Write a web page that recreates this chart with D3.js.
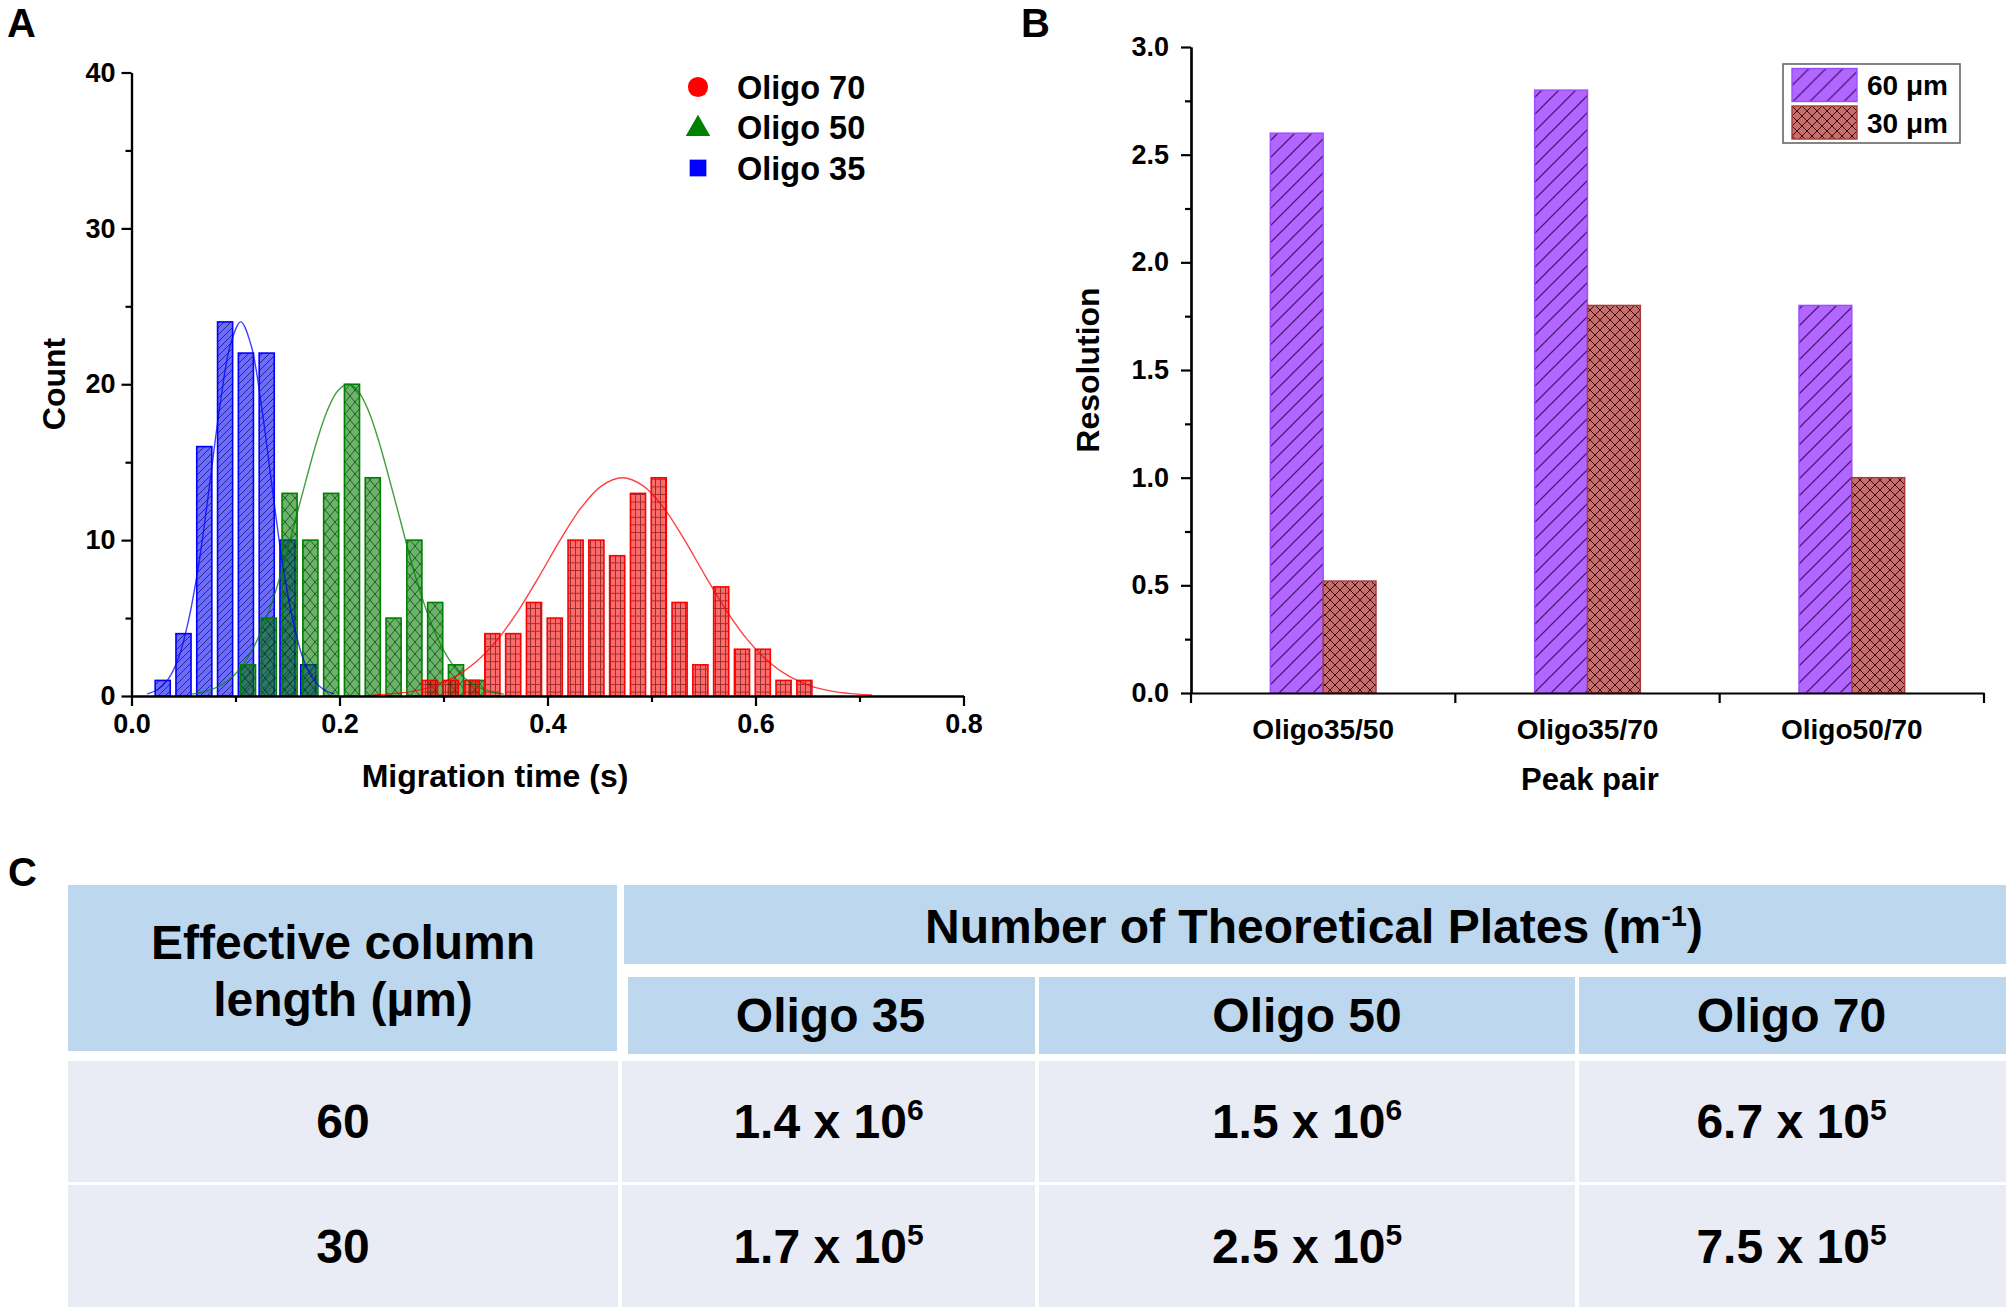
<!DOCTYPE html>
<html>
<head>
<meta charset="utf-8">
<script src="https://cdn.jsdelivr.net/npm/d3@7"></script>
<style>
  body { margin: 0; background: #fff; }
  svg { display: block; }
</style>
</head>
<body>
<svg width="2010" height="1314"></svg>
<script>
// ---- panel A : histogram of migration times (bin centre in s, count) ----
const binWidth = 0.0145;
const oligo35Bins = [0.03, 0.05, 0.07, 0.09, 0.11, 0.13, 0.15, 0.17];
const oligo35Counts = [1, 4, 16, 24, 22, 22, 10, 2];
const oligo50Bins = [0.112, 0.132, 0.152, 0.172, 0.192, 0.212, 0.232, 0.252, 0.272, 0.292, 0.312, 0.332];
const oligo50Counts = [2, 5, 13, 10, 13, 20, 14, 5, 10, 6, 2, 1];
const oligo70Bins = [0.287, 0.307, 0.327, 0.347, 0.367, 0.387, 0.407, 0.427, 0.447, 0.467,
                     0.487, 0.507, 0.527, 0.547, 0.567, 0.587, 0.607, 0.627, 0.647];
const oligo70Counts = [1, 1, 1, 4, 4, 6, 5, 10, 10, 9, 13, 14, 6, 2, 7, 3, 3, 1, 1];

// fitted curves, points
const oligo35FitX = [0.015, 0.025, 0.035, 0.045, 0.055, 0.065, 0.075, 0.085, 0.095, 0.105,
                     0.115, 0.125, 0.135, 0.145, 0.155, 0.165, 0.175, 0.185, 0.195];
const oligo35FitY = [0.14, 0.4, 1.05, 2.4, 4.9, 8.6, 13.5, 18.6, 22.5, 24,
                     22.5, 18.6, 13.5, 8.6, 4.9, 2.4, 1.05, 0.4, 0.14];
const oligo50FitX = [0.058, 0.068, 0.078, 0.088, 0.098, 0.108, 0.118, 0.128, 0.138, 0.148, 0.158,
                     0.168, 0.178, 0.188, 0.198, 0.208, 0.218, 0.228, 0.238, 0.248, 0.258,
                     0.268, 0.278, 0.288, 0.298, 0.308, 0.318, 0.328, 0.338, 0.348, 0.358];
const oligo50FitY = [0.12, 0.24, 0.44, 0.77, 1.29, 2.08, 3.2, 4.7, 6.6, 8.85, 11.4,
                     13.9, 16.3, 18.27, 19.55, 20, 19.55, 18.27, 16.3, 13.9, 11.4,
                     8.85, 6.6, 4.7, 3.2, 2.08, 1.29, 0.77, 0.44, 0.24, 0.12];
const oligo70FitX = [0.232, 0.252, 0.272, 0.292, 0.312, 0.332, 0.352, 0.372, 0.392, 0.412, 0.432, 0.452,
                     0.472, 0.492, 0.512, 0.532, 0.552, 0.572, 0.592, 0.612, 0.632, 0.652, 0.672, 0.692, 0.712];
const oligo70FitY = [0.06, 0.15, 0.33, 0.67, 1.27, 2.23, 3.63, 5.48, 7.68, 9.98, 12.05, 13.48,
                     14, 13.48, 12.05, 9.98, 7.68, 5.48, 3.63, 2.23, 1.27, 0.67, 0.33, 0.15, 0.06];

const xTicksA = [0, 0.2, 0.4, 0.6, 0.8];
const xMinorA = [0.1, 0.3, 0.5, 0.7];
const yTicksA = [0, 10, 20, 30, 40];
const yMinorA = [5, 15, 25, 35];
const legendA = ["Oligo 70", "Oligo 50", "Oligo 35"];

// ---- panel B : resolution per peak pair ----
const peakPairs = ["Oligo35/50", "Oligo35/70", "Oligo50/70"];
const lengthsB = ["60 μm", "30 μm"];
const res60 = [2.6, 2.8, 1.8];
const res30 = [0.52, 1.8, 1.0];
const yTicksB = [0, 0.5, 1.0, 1.5, 2.0, 2.5, 3.0];
const yMinorB = [0.25, 0.75, 1.25, 1.75, 2.25, 2.75];

// ---- panel C : theoretical plates table ----
const tableLeftHead = ["Effective column", "length (µm)"];
const tableTopHead = "Number of Theoretical Plates (m";
const tableTopSup = "-1";
const oligoCols = ["Oligo 35", "Oligo 50", "Oligo 70"];
const columnLengths = ["60", "30"];
const platesMantissa = [["1.4", "1.5", "6.7"], ["1.7", "2.5", "7.5"]];
const platesExponent = [["6", "6", "5"], ["5", "5", "5"]];

const FONT = "'Liberation Sans', Arial, sans-serif";
const svg = d3.select("svg")
    .attr("font-family", FONT)
    .attr("font-weight", "bold");
const defs = svg.append("defs");

function addPattern(id, w, h, d, color, sw){
    defs.append("pattern")
        .attr("id", id)
        .attr("patternUnits", "userSpaceOnUse")
        .attr("width", w)
        .attr("height", h)
        .append("path")
        .attr("d", d)
        .attr("fill", "none")
        .attr("stroke", color)
        .attr("stroke-width", sw);
}
addPattern("hatchBlue", 7, 7, "M0,7L7,0M-1,1L1,-1M6,8L8,6", "rgba(0,0,40,0.6)", 1);
addPattern("crossGreen", 10, 12, "M0,0L10,12M10,0L0,12", "rgba(0,25,0,0.6)", 1);
addPattern("gridRed", 5, 7.6, "M0,0.5H5M0.5,0V7.6", "rgba(70,0,0,0.55)", 1);
addPattern("hatchPurple", 17, 17, "M0,17L17,0M-2,2L2,-2M15,19L19,15", "#4a1a78", 1.3);
addPattern("crossBrown", 10, 10, "M0,0L10,10M10,0L0,10", "#3c0c0c", 1);

function styleAxis(g, size){
    g.attr("font-family", FONT).attr("font-size", size).attr("font-weight", "bold");
    g.selectAll("path, line").attr("stroke", "#000").attr("stroke-width", 2.2);
    g.selectAll("text").attr("fill", "#000");
}

// ================= panel A =================
const xA = d3.scaleLinear().domain([0, 0.8]).range([131.5, 963.5]);
const yA = d3.scaleLinear().domain([0, 40]).range([696, 72.5]);
const gA = svg.append("g");

const seriesA = [
    { bins: oligo35Bins, counts: oligo35Counts, fx: oligo35FitX, fy: oligo35FitY, color: "#0000ff", pat: "hatchBlue" },
    { bins: oligo50Bins, counts: oligo50Counts, fx: oligo50FitX, fy: oligo50FitY, color: "#008000", pat: "crossGreen" },
    { bins: oligo70Bins, counts: oligo70Counts, fx: oligo70FitX, fy: oligo70FitY, color: "#ff0000", pat: "gridRed" }
];

seriesA.forEach(function(s){
    var bars = gA.append("g")
        .selectAll("g")
        .data(d3.zip(s.bins, s.counts))
        .join("g");
    bars.append("rect")
        .attr("x", d => xA(d[0] - binWidth / 2))
        .attr("width", xA(binWidth) - xA(0))
        .attr("y", d => yA(d[1]))
        .attr("height", d => yA(0) - yA(d[1]))
        .attr("fill", s.color)
        .attr("fill-opacity", 0.58);
    bars.append("rect")
        .attr("x", d => xA(d[0] - binWidth / 2))
        .attr("width", xA(binWidth) - xA(0))
        .attr("y", d => yA(d[1]))
        .attr("height", d => yA(0) - yA(d[1]))
        .attr("fill", "url(#" + s.pat + ")")
        .attr("stroke", s.color)
        .attr("stroke-width", 1.6);
});

const fitLine = d3.line()
    .x(d => xA(d[0]))
    .y(d => yA(d[1]))
    .curve(d3.curveCatmullRom);
seriesA.forEach(function(s){
    gA.append("path")
        .attr("d", fitLine(d3.zip(s.fx, s.fy)))
        .attr("fill", "none")
        .attr("stroke", s.color)
        .attr("stroke-opacity", 0.75)
        .attr("stroke-width", 1.4);
});

// axes A
gA.append("g").attr("transform", "translate(0,696)")
    .call(d3.axisBottom(xA).tickValues(xMinorA).tickFormat("").tickSize(6).tickSizeOuter(0))
    .call(g => styleAxis(g, 27));
gA.append("g").attr("transform", "translate(0,696)")
    .call(d3.axisBottom(xA).tickValues(xTicksA).tickFormat(d3.format(".1f")).tickSize(10).tickSizeOuter(0).tickPadding(8))
    .call(g => styleAxis(g, 27));
gA.append("g").attr("transform", "translate(131.5,0)")
    .call(d3.axisLeft(yA).tickValues(yMinorA).tickFormat("").tickSize(6).tickSizeOuter(0))
    .call(g => styleAxis(g, 27));
gA.append("g").attr("transform", "translate(131.5,0)")
    .call(d3.axisLeft(yA).tickValues(yTicksA).tickFormat(d3.format("d")).tickSize(10).tickSizeOuter(0).tickPadding(6))
    .call(g => styleAxis(g, 27));

gA.append("text")
    .attr("transform", "translate(54,384) rotate(-90)")
    .attr("text-anchor", "middle").attr("dy", "0.35em")
    .attr("font-size", 32).text("Count");
gA.append("text")
    .attr("x", 495).attr("y", 776)
    .attr("text-anchor", "middle").attr("dy", "0.35em")
    .attr("font-size", 32).text("Migration time (s)");

// legend A
const legSymbols = [d3.symbolCircle, d3.symbolTriangle, d3.symbolSquare];
const legSizes = [320, 260, 280];
const legColors = ["#ff0000", "#008000", "#0000ff"];
const legY = [87, 127, 168];
const legA = gA.append("g").selectAll("g")
    .data(legendA)
    .join("g")
    .attr("transform", (d, i) => "translate(0," + legY[i] + ")");
legA.append("path")
    .attr("transform", (d, i) => "translate(698," + (i == 1 ? 2 : 0) + ")")
    .attr("d", (d, i) => d3.symbol(legSymbols[i], legSizes[i])())
    .attr("fill", (d, i) => legColors[i]);
legA.append("text")
    .attr("x", 737).attr("dy", "0.36em")
    .attr("font-size", 32.5)
    .text(d => d);

svg.append("text").attr("x", 7).attr("y", 37).attr("font-size", 40).text("A");

// ================= panel B =================
const xB = d3.scaleBand().domain(peakPairs).range([1191, 1984]);
const yB = d3.scaleLinear().domain([0, 3]).range([693, 47]);
const bw = xB.bandwidth();
const xInner = d3.scaleBand().domain(lengthsB).range([bw * 0.3, bw * 0.7]);
const gB = svg.append("g");

const seriesB = [
    { key: lengthsB[0], values: res60, fill: "#b266ff", stroke: "#9a4dff", pat: "hatchPurple" },
    { key: lengthsB[1], values: res30, fill: "#c66e6e", stroke: "#a83a3a", pat: "crossBrown" }
];

seriesB.forEach(function(s){
    var bars = gB.append("g").selectAll("g")
        .data(d3.zip(peakPairs, s.values))
        .join("g");
    bars.append("rect")
        .attr("x", d => xB(d[0]) + xInner(s.key))
        .attr("width", xInner.bandwidth())
        .attr("y", d => yB(d[1]))
        .attr("height", d => yB(0) - yB(d[1]))
        .attr("fill", s.fill);
    bars.append("rect")
        .attr("x", d => xB(d[0]) + xInner(s.key))
        .attr("width", xInner.bandwidth())
        .attr("y", d => yB(d[1]))
        .attr("height", d => yB(0) - yB(d[1]))
        .attr("fill", "url(#" + s.pat + ")")
        .attr("stroke", s.stroke)
        .attr("stroke-width", 1.4);
});

// axes B
gB.append("g").attr("transform", "translate(1191,0)")
    .call(d3.axisLeft(yB).tickValues(yMinorB).tickFormat("").tickSize(6).tickSizeOuter(0))
    .call(g => styleAxis(g, 27));
gB.append("g").attr("transform", "translate(1191,0)")
    .call(d3.axisLeft(yB).tickValues(yTicksB).tickFormat(d3.format(".1f")).tickSize(10).tickSizeOuter(0).tickPadding(12))
    .call(g => styleAxis(g, 27));
gB.append("g").attr("transform", "translate(0,693)")
    .call(d3.axisBottom(xB).tickSize(0).tickSizeOuter(0).tickPadding(26))
    .call(g => styleAxis(g, 28));
// ticks at the band boundaries
gB.append("g").selectAll("line")
    .data(peakPairs.map(p => xB(p)).concat([xB.range()[1]]))
    .join("line")
    .attr("x1", d => d).attr("x2", d => d)
    .attr("y1", 693).attr("y2", 703)
    .attr("stroke", "#000").attr("stroke-width", 2.2);

gB.append("text")
    .attr("transform", "translate(1088,370) rotate(-90)")
    .attr("text-anchor", "middle").attr("dy", "0.35em")
    .attr("font-size", 32).text("Resolution");
gB.append("text")
    .attr("x", 1590).attr("y", 779)
    .attr("text-anchor", "middle").attr("dy", "0.35em")
    .attr("font-size", 31).text("Peak pair");

// legend B
gB.append("rect")
    .attr("x", 1783).attr("y", 64).attr("width", 177).attr("height", 79)
    .attr("fill", "#fff").attr("stroke", "#666").attr("stroke-width", 1.6);
const legB = gB.append("g").selectAll("g")
    .data(seriesB)
    .join("g")
    .attr("transform", (d, i) => "translate(1792," + (68.5 + i * 37.5) + ")");
legB.append("rect")
    .attr("width", 65).attr("height", 33)
    .attr("fill", d => d.fill);
legB.append("rect")
    .attr("width", 65).attr("height", 33)
    .attr("fill", d => "url(#" + d.pat + ")")
    .attr("stroke", d => d.stroke).attr("stroke-width", 1.4);
legB.append("text")
    .attr("x", 75).attr("y", 16.5).attr("dy", "0.36em")
    .attr("font-size", 28)
    .text(d => d.key);

svg.append("text").attr("x", 1021).attr("y", 37).attr("font-size", 40).text("B");

// ================= panel C =================
svg.append("text").attr("x", 8).attr("y", 886).attr("font-size", 40).text("C");

const headFill = "#bdd7ee";
const bodyFill = "#e9ebf5";
const colEdges = [68, 620, 1037, 1577, 2006];
const bodyRows = [[1061, 1182], [1185, 1307]];
const gC = svg.append("g").attr("font-size", 48);

// header cells
gC.append("rect").attr("x", 68).attr("y", 885).attr("width", 549).attr("height", 166).attr("fill", headFill);
gC.append("rect").attr("x", 624).attr("y", 885).attr("width", 1382).attr("height", 79).attr("fill", headFill);
gC.selectAll("rect.sub")
    .data(oligoCols)
    .join("rect")
    .attr("class", "sub")
    .attr("x", (d, i) => colEdges[i + 1] + (i == 0 ? 8 : 2))
    .attr("width", (d, i) => colEdges[i + 2] - colEdges[i + 1] - (i == 0 ? 10 : 4) + (i == 2 ? 2 : 0))
    .attr("y", 977).attr("height", 77)
    .attr("fill", headFill);

gC.selectAll("text.lefthead")
    .data(tableLeftHead)
    .join("text")
    .attr("class", "lefthead")
    .attr("x", 343).attr("y", (d, i) => 942 + i * 57)
    .attr("text-anchor", "middle").attr("dy", "0.35em")
    .text(d => d);

const topHead = gC.append("text")
    .attr("x", 1314).attr("y", 926)
    .attr("text-anchor", "middle").attr("dy", "0.35em");
topHead.append("tspan").text(tableTopHead);
topHead.append("tspan").attr("font-size", 29).attr("dy", -17).text(tableTopSup);
topHead.append("tspan").attr("dy", 17).text(")");

gC.selectAll("text.colhead")
    .data(oligoCols)
    .join("text")
    .attr("class", "colhead")
    .attr("x", (d, i) => (colEdges[i + 1] + colEdges[i + 2]) / 2 + (i == 0 ? 2 : 0))
    .attr("y", 1015)
    .attr("text-anchor", "middle").attr("dy", "0.35em")
    .text(d => d);

// body
const rowsC = gC.selectAll("g.row")
    .data(columnLengths)
    .join("g")
    .attr("class", "row");
rowsC.each(function(len, r){
    var row = d3.select(this);
    var y0 = bodyRows[r][0], y1 = bodyRows[r][1];
    var cells = [len].concat(platesMantissa[r]);
    row.selectAll("rect")
        .data(cells)
        .join("rect")
        .attr("x", (d, c) => colEdges[c] + (c == 0 ? 0 : 2))
        .attr("width", (d, c) => colEdges[c + 1] - colEdges[c] - (c == 0 ? 2 : (c == 3 ? 2 : 4)))
        .attr("y", y0).attr("height", y1 - y0)
        .attr("fill", bodyFill);
    var t = row.selectAll("text")
        .data(cells)
        .join("text")
        .attr("x", (d, c) => c == 0 ? 343 : (colEdges[c] + colEdges[c + 1]) / 2)
        .attr("y", (y0 + y1) / 2)
        .attr("text-anchor", "middle").attr("dy", "0.35em");
    t.filter((d, c) => c == 0).text(d => d);
    t.filter((d, c) => c > 0).each(function(d, k){
        var el = d3.select(this);
        el.append("tspan").text(d + " x 10");
        el.append("tspan").attr("font-size", 30).attr("dy", -18).text(platesExponent[r][k]);
    });
});
</script>
</body>
</html>
